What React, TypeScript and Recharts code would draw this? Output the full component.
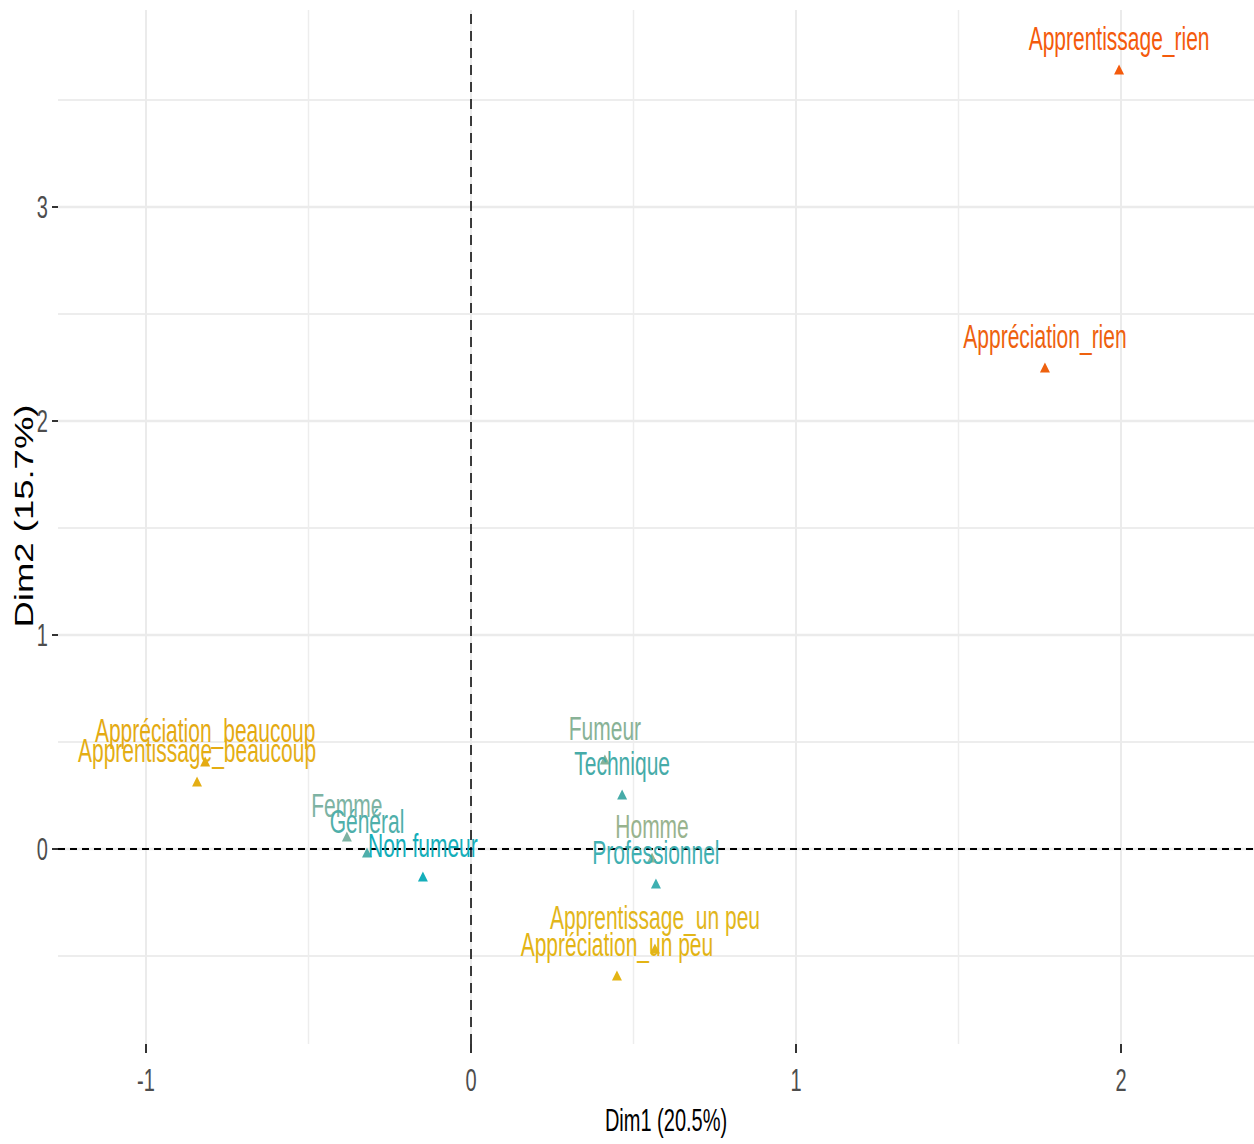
import React from "react";
import { ScatterChart, Scatter, XAxis, YAxis, ReferenceLine } from "recharts";

// ---- data ----
const names = [
  "Apprentissage_rien",
  "Appréciation_rien",
  "Appréciation_beaucoup",
  "Apprentissage_beaucoup",
  "Femme",
  "Général",
  "Non fumeur",
  "Fumeur",
  "Technique",
  "Homme",
  "Professionnel",
  "Apprentissage_un peu",
  "Appréciation_un peu",
];
const dim1 = [1.994, 1.766, -0.818, -0.843, -0.382, -0.32, -0.148, 0.412, 0.465, 0.557, 0.569, 0.566, 0.449];
const dim2 = [3.64, 2.248, 0.407, 0.313, 0.056, -0.019, -0.131, 0.416, 0.252, -0.042, -0.164, -0.467, -0.593];

const xTicks = [-1, 0, 1, 2];
const yTicks = [0, 1, 2, 3];
const xGridMinor = [-0.5, 0.5, 1.5];
const yGridMinor = [-0.5, 0.5, 1.5, 2.5, 3.5];
const xTitle = "Dim1 (20.5%)";
const yTitle = "Dim2 (15.7%)";

// ---- styles ----
const pointColors = [
  "#F45A0C",
  "#EE610E",
  "#E4AA12",
  "#E4AE14",
  "#7DB3A3",
  "#4FAFAA",
  "#14AEBA",
  "#88B296",
  "#46ABA8",
  "#98B38E",
  "#3FB0B2",
  "#E2B61A",
  "#E3B414",
];

const FONT = "'Liberation Sans', Arial, sans-serif";
const SY = 1.6;

const rows = names.map((n, i) => ({ name: n, x: dim1[i], y: dim2[i], color: pointColors[i] }));

const Triangle = (props: any) => {
  const { cx, cy, payload } = props;
  if (cx == null || cy == null) return null;
  const pts = `${cx},${cy - 5.5} ${cx - 5},${cy + 4.5} ${cx + 5},${cy + 4.5}`;
  return <polygon points={pts} fill={payload.color} />;
};

const PointLabel = (props: any) => {
  const { cx, cy, payload } = props;
  if (cx == null || cy == null) return null;
  return (
    <text
      transform={`translate(${cx},${cy - 20}) scale(1,${SY})`}
      textAnchor="middle"
      fontFamily={FONT}
      fontSize={21}
      fill={payload.color}
    >
      {payload.name}
    </text>
  );
};

const XTick = (props: any) => {
  const { x, y, payload } = props;
  return (
    <text
      transform={`translate(${x},${y + 36}) scale(1,${SY})`}
      textAnchor="middle"
      fontFamily={FONT}
      fontSize={20}
      fill="#4D4D4D"
    >
      {payload.value}
    </text>
  );
};

const YTick = (props: any) => {
  const { x, y, payload } = props;
  return (
    <text
      transform={`translate(${x - 2},${y + 11}) scale(1,${SY})`}
      textAnchor="end"
      fontFamily={FONT}
      fontSize={20}
      fill="#4D4D4D"
    >
      {payload.value}
    </text>
  );
};

const XTitle = (props: any) => {
  const vb = props.viewBox;
  return (
    <text
      transform={`translate(${vb.x + vb.width / 2 + 10},${vb.y + 87}) scale(1,1.6)`}
      textAnchor="middle"
      fontFamily={FONT}
      fontSize={20}
      fill="#000"
    >
      {xTitle}
    </text>
  );
};

const YTitle = (props: any) => {
  const vb = props.viewBox;
  return (
    <text
      transform={`translate(33,${vb.y + vb.height / 2 - 11}) rotate(-90) scale(1.46,1)`}
      textAnchor="middle"
      fontFamily={FONT}
      fontSize={25}
      fill="#000"
    >
      {yTitle}
    </text>
  );
};

function XTitleWrap(props: any) {
  return <XTitle {...props} />;
}
function YTitleWrap(props: any) {
  return <YTitle {...props} />;
}

export default function App() {
  return (
    <div style={{ position: "absolute", left: 0, top: 0, background: "#fff" }}>
      <ScatterChart width={1254} height={1144} margin={{ top: 10, right: 0, bottom: 0, left: 0 }}>
        <XAxis
          type="number"
          dataKey="x"
          domain={[-1.2708, 2.4092]}
          allowDataOverflow
          ticks={xTicks}
          height={100}
          axisLine={false}
          tickSize={9}
          tickLine={{ stroke: "#333", strokeWidth: 2 }}
          tick={<XTick />}
          label={<XTitleWrap />}
        />
        <YAxis
          type="number"
          dataKey="y"
          domain={[-0.9112, 3.9206]}
          allowDataOverflow
          ticks={yTicks}
          width={58}
          axisLine={false}
          tickSize={6}
          tickLine={{ stroke: "#333", strokeWidth: 2 }}
          tick={<YTick />}
          label={<YTitleWrap />}
        />
        {xGridMinor.map((v) => (
          <ReferenceLine key={"xm" + v} x={v} stroke="#EDEDED" strokeWidth={1.5} />
        ))}
        {yGridMinor.map((v) => (
          <ReferenceLine key={"ym" + v} y={v} stroke="#EDEDED" strokeWidth={2} />
        ))}
        {xTicks.map((v) => (
          <ReferenceLine key={"xM" + v} x={v} stroke="#EBEBEB" strokeWidth={2} />
        ))}
        {yTicks.map((v) => (
          <ReferenceLine key={"yM" + v} y={v} stroke="#EBEBEB" strokeWidth={2.5} />
        ))}
        <ReferenceLine x={0} stroke="#000" strokeWidth={1.5} strokeDasharray="10 7" />
        <ReferenceLine y={0} stroke="#000" strokeWidth={2} strokeDasharray="7 5" />
        <Scatter data={rows} shape={<Triangle />} isAnimationActive={false} />
        <Scatter data={rows} shape={<PointLabel />} isAnimationActive={false} />
      </ScatterChart>
    </div>
  );
}
